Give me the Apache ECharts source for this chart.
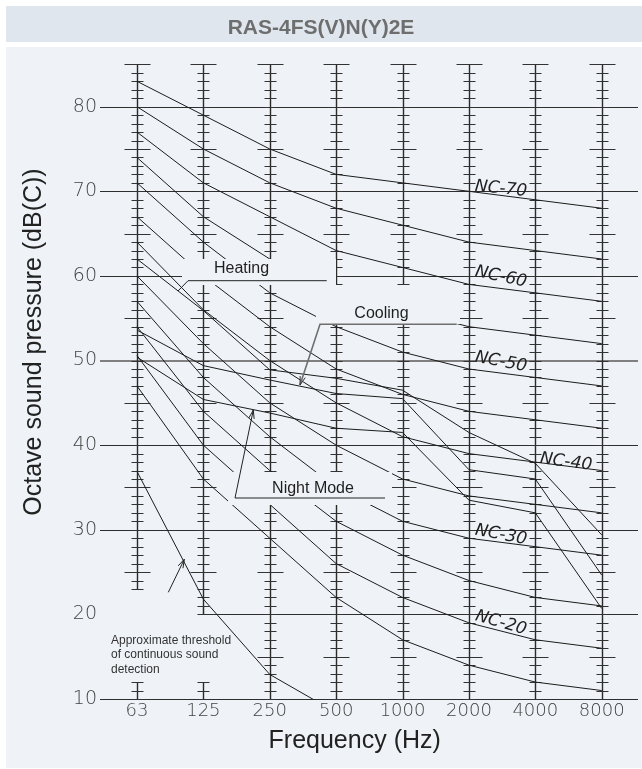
<!DOCTYPE html>
<html>
<head>
<meta charset="utf-8">
<script src="https://cdn.jsdelivr.net/npm/echarts@6/dist/echarts.min.js"></script>
<style>
html,body{margin:0;padding:0;background:#ffffff;}
#chart{position:absolute;left:0;top:0;width:642px;height:769px;}
</style>
</head>
<body>
<div id="chart"></div>
<script>
// ---------------- data ----------------
const freqLabels = ['63','125','250','500','1000','2000','4000','8000'];
const yTickValues = [10,20,30,40,50,60,70,80];

const nc15 = [47,36,29,22,17,14,12,11];
const nc20 = [50.6,40,33,26,22,19,17,16];
const nc25 = [54,44,37,31,27,24,22,21];
const nc30 = [57,48,41,35,31,29,28,27];
const nc35 = [60,52,45,40,36,34,33,32];
const nc40 = [64,56,50,45,41,39,38,37];
const nc45 = [67,60,54,49,46,44,43,42];
const nc50 = [71,64,58,54,51,49,48,47];
const nc55 = [74,67,62,58,56,54,53,52];
const nc60 = [77,71,67,63,61,59,58,57];
const nc65 = [80,75,71,68,66,64,63,62];
const nc70 = [83,79,75,72,71,70,69,68];

const heating   = [62,55.9,48.9,47.9,46.5,41.5,37.85,29.4];
const cooling   = [53.6,49.4,47.7,46.1,45.5,37.1,36.0,24.65];
const nightMode = [50.4,45.4,43.8,42.0,41.5,33.5,32.0,20.7];
const threshold = [36.9,21.8,12.9,8.4];

const ncLabelTexts = ['NC-70','NC-60','NC-50','NC-40','NC-30','NC-20'];

// column (scale) extents in dB
const columnTop = 85;
const columnBottoms = [23,20,10,10,10,10,10,10];
const stubTops = [12,12,null,null,null,null,null,null];

// ---------------- styling / layout ----------------
const PANEL = '#eff3f7';
const BAND = '#dfe6ee';
const LINE = '#1c1c1c';
const THIN_FONT = 'DejaVu Sans';
const SANS = 'Liberation Sans, Arial, sans-serif';

const ncList = [nc15,nc20,nc25,nc30,nc35,nc40,nc45,nc50,nc55,nc60,nc65,nc70];
const measured = [heating, cooling, nightMode];
const toXY = arr => arr.map((v,i)=>[i,v]);

const columnData = [];
columnBottoms.forEach((b,i)=>{
  columnData.push([i, columnTop, b]);
  if (stubTops[i] != null) columnData.push([i, stubTops[i], 10]);
});

function renderColumn(params, api){
  const i = api.value(0), top = api.value(1), bot = api.value(2);
  const p0 = api.coord([i, top]), p1 = api.coord([i, bot]);
  const cx = Math.round(p0[0]) + 0.5;
  const children = [{type:'line', shape:{x1:cx,y1:p0[1],x2:cx,y2:p1[1]}, style:{stroke:'#2a2a2a', lineWidth:1.4}}];
  for (let d = bot; d <= top; d++){
    const y = Math.round(api.coord([i,d])[1]) + 0.5;
    let hw = 6;
    if (d === 85 || d % 10 === 5) hw = 13;
    children.push({type:'line', shape:{x1:cx-hw,y1:y,x2:cx+hw,y2:y}, style:{stroke:'#333', lineWidth:1}});
  }
  return {type:'group', children};
}

function renderGridLine(params, api){
  const cs = params.coordSys;
  const v = api.value(0);
  const heavy = v === 50;
  let y = api.coord([0, v])[1];
  y = heavy ? Math.round(y) : Math.round(y) + 0.5;
  const x1 = v === 20 ? Math.round(api.coord([1, v])[0]) + 0.5 : cs.x;
  const children = [{type:'line', shape:{x1:x1,y1:y,x2:cs.x+cs.width,y2:y},
    style:{stroke: heavy ? '#808080' : '#2e2e2e', lineWidth: heavy ? 2 : 1.1}}];
  if (v === 20) {
    children.push({type:'line', shape:{x1:x1,y1:y,x2:x1,y2:api.coord([1,21])[1]}, style:{stroke:'#2e2e2e', lineWidth:1.1}});
  }
  return {type:'group', children};
}

const series = [];
series.push({type:'custom', data: yTickValues.map(v=>[v]), renderItem: renderGridLine, silent:true, z:2, animation:false, clip:false});
series.push({type:'custom', data: columnData, renderItem: renderColumn, encode:{x:0,y:[1,2]}, silent:true, z:2, animation:false, clip:false});
ncList.forEach(arr => series.push({type:'line', data: toXY(arr), symbol:'none', silent:true, animation:false, z:3,
  lineStyle:{color:LINE, width:1}}));
measured.forEach(arr => series.push({type:'line', data: toXY(arr), symbol:'none', silent:true, animation:false, z:3,
  lineStyle:{color:LINE, width:1}}));
series.push({type:'line', data: toXY(threshold), symbol:'none', silent:true, animation:false, z:3, clip:true,
  lineStyle:{color:LINE, width:1}});

// ---------------- annotations (pixel space) ----------------
function arrowHead(tail, tip, len, ang){
  const dx = tail[0]-tip[0], dy = tail[1]-tip[1];
  const L = Math.hypot(dx,dy), ux = dx/L, uy = dy/L;
  const r = a => [tip[0] + len*(ux*Math.cos(a) - uy*Math.sin(a)), tip[1] + len*(ux*Math.sin(a) + uy*Math.cos(a))];
  return [r(ang), tip, r(-ang)];
}
function poly(points, stroke, w){
  return {type:'polyline', z:110, silent:true, shape:{points}, style:{stroke, lineWidth:w, fill:null}};
}
function txt(x, y, text, font, color, rot, align){
  return {type:'text', z:120, silent:true, x, y, rotation: rot||0,
    style:{text, font, fill:color, align: align||'center', verticalAlign:'middle',
      textAlign: align||'center', textVerticalAlign:'middle'}};
}
function rect(x,y,w,h,fill,z){
  return {type:'rect', z, silent:true, shape:{x,y,width:w,height:h}, style:{fill}};
}

const ncLabelPos = [[501,189,-0.10],[501,277,-0.21],[501,362,-0.19],[566,462,-0.13],[501,535,-0.19],[501,623,-0.28]];

const elements = [
  rect(6,6,636,36,BAND,-20),
  rect(6,47,636,721,PANEL,-20),
  // masks behind annotation labels
  rect(182,259,154,26,PANEL,100),
  rect(316,285,144,39,PANEL,100),
  rect(228,472,164,33,PANEL,100),
  // leaders
  poly([[326.7,280.7],[188,280.7],[178,291]], '#222', 1),
  poly([[456.7,324.3],[320,324.3],[300,385]], '#6f6f6f', 1.6),
  poly(arrowHead([320,324.3],[300,385],9,0.3), '#333', 1),
  poly([[385,498],[235,498],[253.3,410]], '#222', 1),
  poly(arrowHead([235,498],[253.3,410],9,0.3), '#222', 1),
  poly([[168.3,592.3],[184.3,559.3]], '#222', 1),
  poly(arrowHead([168.3,592.3],[184.3,559.3],9,0.3), '#222', 1),
  // label texts
  txt(241.5,268.5,'Heating','16px '+SANS,'#1e1e1e'),
  txt(381.5,313.5,'Cooling','16px '+SANS,'#1e1e1e'),
  txt(313,488.5,'Night Mode','16px '+SANS,'#1e1e1e'),
  txt(111,640.5,'Approximate threshold','12px '+SANS,'#333',0,'left'),
  txt(111,655,'of continuous sound','12px '+SANS,'#333',0,'left'),
  txt(111,669.5,'detection','12px '+SANS,'#333',0,'left'),
  // axis titles
  txt(34,342,'Octave sound pressure (dB(C))','25px '+SANS,'#222',Math.PI/2),
  txt(354.7,741,'Frequency (Hz)','25px '+SANS,'#222')
];
ncLabelTexts.forEach((t,k)=>{
  const p = ncLabelPos[k];
  elements.push(txt(p[0],p[1],t,'italic 200 17px '+THIN_FONT,'#222',p[2]));
});

const X_MIN = -0.5573, X_MAX = 7.5468;

const chart = echarts.init(document.getElementById('chart'), null, {renderer:'canvas'});
chart.setOption({
  animation:false,
  backgroundColor:'transparent',
  title:{text:'RAS-4FS(V)N(Y)2E', left:'center', top:13,
    textStyle:{fontSize:21, fontWeight:'bold', color:'#6e6e6e', fontFamily:SANS}},
  grid:{left:100, right:4, top:64.4, bottom:70, containLabel:false},
  xAxis:{type:'value', min:X_MIN, max:X_MAX,
    axisLine:{show:false}, axisTick:{show:false}, splitLine:{show:false},
    axisLabel:{customValues: freqLabels.map((f,i)=>i), formatter: v => freqLabels[Math.round(v)] || '',
      margin:3, fontSize:18, color:'#444', fontFamily:THIN_FONT, fontWeight:200}},
  yAxis:{type:'value', min:10, max:85,
    axisLine:{show:false}, axisTick:{show:false}, splitLine:{show:false},
    axisLabel:{customValues: yTickValues, formatter: v => (v % 10 === 0 && v <= 80) ? String(v) : '',
      margin:3, fontSize:19, color:'#444', fontFamily:THIN_FONT, fontWeight:200}},
  graphic:{elements},
  series
});
</script>
</body>
</html>
